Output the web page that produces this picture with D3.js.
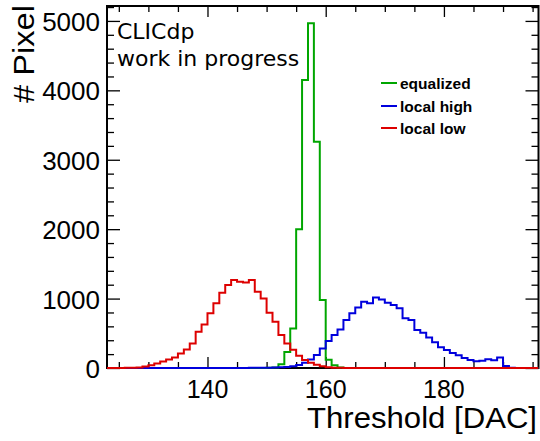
<!DOCTYPE html>
<html><head><meta charset="utf-8">
<script src="https://cdn.jsdelivr.net/npm/d3@7"></script>
<style>html,body{margin:0;padding:0;background:#fff;} svg{display:block;}</style>
</head><body>
<svg id="c" width="540" height="441"></svg>
<script>
// ---- data ----
const binLow = [123,124,125,126,127,128,129,130,131,132,133,134,135,136,137,138,139,140,141,142,143,144,145,146,147,148,149,150,151,152,153,154,155,156,157,158,159,160,161,162,163,164,165,166,167,168,169,170,171,172,173,174,175,176,177,178,179,180,181,182,183,184,185,186,187,188,189,190,191,192,193,194,195];
const xRange = [123, 196];
const yRange = [0, 5215];
const equalized = [0,0,0,0,0,0,0,0,0,0,0,0,0,0,0,0,0,0,0,0,0,0,0,0,0,0,0,2,8,55,230,570,2000,4150,4965,3260,980,120,40,6,1,0,0,0,0,0,0,0,0,0,0,0,0,0,0,0,0,0,0,0,0,0,0,0,0,0,0,0,0,0,0,0,0];
const localHigh = [0,0,0,0,0,0,0,0,0,0,0,0,0,0,0,0,0,0,0,0,0,0,1,1,2,3,4,5,7,10,15,27,42,75,124,186,282,388,474,556,690,787,873,954,931,1017,988,939,906,859,715,690,546,508,440,370,300,260,217,185,143,114,97,105,125,112,150,30,5,1,0,0,0];
const localLow = [0,1,1,2,4,8,20,40,66,95,124,152,210,268,354,522,628,787,931,1084,1195,1267,1242,1233,1267,1098,1003,795,666,474,354,262,178,114,75,46,27,12,5,2,1,0,0,0,0,0,0,0,0,0,0,0,0,0,0,0,0,0,0,0,0,0,0,0,0,0,0,0,0,0,0,0,0];
const seriesNames = ["equalized","local high","local low"];
const seriesColors = ["#00a600","#0000dd","#dd0000"];
const xMajor = [140,160,180];
const xMinor = [125,130,135,145,150,155,165,170,175,185,190,195];
const yMajor = [0,1000,2000,3000,4000,5000];
const yMinor = [200,400,600,800,1200,1400,1600,1800,2200,2400,2600,2800,3200,3400,3600,3800,4200,4400,4600,4800,5200];

// ---- layout ----
const L=107, R=538.5, T=6, B=368;
const svg = d3.select("#c");
const x = d3.scaleLinear().domain(xRange).range([L,R]);
const y = d3.scaleLinear().domain(yRange).range([B,T]);

svg.append("defs").append("clipPath").attr("id","clip")
  .append("rect").attr("x",L).attr("y",T).attr("width",R-L).attr("height",B-T+1.5);

// frame
svg.append("rect").attr("x",L).attr("y",T).attr("width",R-L).attr("height",B-T)
  .attr("fill","none").attr("stroke","#000").attr("stroke-width",2);

function axisG(axis, tx, ty){
  const a = svg.append("g").attr("transform",`translate(${tx},${ty})`).call(axis);
  a.select(".domain").remove();
  a.selectAll("text").remove();
  a.selectAll("line").attr("stroke","#000").attr("stroke-width",1.3);
  return a;
}
// x ticks bottom & top
axisG(d3.axisBottom(x).tickValues(xMajor).tickSize(-11).tickFormat(""),0,B);
axisG(d3.axisBottom(x).tickValues(xMinor).tickSize(-6).tickFormat(""),0,B);
axisG(d3.axisTop(x).tickValues(xMajor).tickSize(-11).tickFormat(""),0,T);
axisG(d3.axisTop(x).tickValues(xMinor).tickSize(-6).tickFormat(""),0,T);
// y ticks left & right
axisG(d3.axisLeft(y).tickValues(yMajor).tickSize(-13).tickFormat(""),L,0);
axisG(d3.axisLeft(y).tickValues(yMinor).tickSize(-7).tickFormat(""),L,0);
axisG(d3.axisRight(y).tickValues(yMajor).tickSize(-13).tickFormat(""),R,0);
axisG(d3.axisRight(y).tickValues(yMinor).tickSize(-7).tickFormat(""),R,0);

// histograms (drawn over the frame, as in the reference)
const line = d3.line().x(d=>x(d[0])).y(d=>y(d[1])).curve(d3.curveStepAfter);
const series = [equalized, localHigh, localLow];
const g = svg.append("g").attr("clip-path","url(#clip)");
series.forEach((vals,k)=>{
  const pts = binLow.map((b,i)=>[b, vals[i]]);
  pts.push([xRange[1], vals[vals.length-1]]);
  g.append("path").attr("d", line(pts)).attr("fill","none")
   .attr("stroke", seriesColors[k]).attr("stroke-width",2);
});

// tick labels
const F = "'Liberation Sans', Arial, Helvetica, sans-serif";
svg.selectAll(".xl").data(xMajor).enter().append("text")
  .attr("x",d=>x(d)).attr("y",398).attr("text-anchor","middle")
  .attr("font-family",F).attr("font-size",25).text(d=>d);
svg.selectAll(".yl").data(yMajor).enter().append("text")
  .attr("x",100).attr("y",d=>y(d)+10).attr("text-anchor","end")
  .attr("font-family",F).attr("font-size",26).text(d=>d);

// axis titles
svg.append("text").attr("x",307).attr("y",428)
  .attr("textLength",230).attr("lengthAdjust","spacingAndGlyphs")
  .attr("font-family",F).attr("font-size",30).text("Threshold [DAC]");
svg.append("text").attr("transform","translate(34,103) rotate(-90)")
  .attr("textLength",98).attr("lengthAdjust","spacingAndGlyphs")
  .attr("font-family",F).attr("font-size",30).text("# Pixel");

// label
const F2 = "'DejaVu Sans', sans-serif";
svg.append("text").attr("x",117).attr("y",39).attr("font-family",F2).attr("font-size",22).text("CLICdp");
svg.append("text").attr("x",117).attr("y",66).attr("font-family",F2).attr("font-size",22).text("work in progress");

// legend
const legY = [83,106,128];
seriesNames.forEach((n,k)=>{
  svg.append("line").attr("x1",381).attr("x2",397).attr("y1",legY[k]).attr("y2",legY[k])
    .attr("stroke",seriesColors[k]).attr("stroke-width",2);
  svg.append("text").attr("x",400).attr("y",legY[k]+5.5).attr("font-family",F)
    .attr("font-weight","bold").attr("font-size",15.5).text(n);
});
</script>
</body></html>
